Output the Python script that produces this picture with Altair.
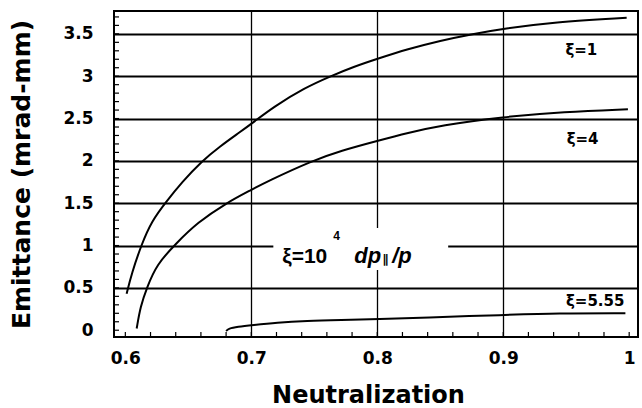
import altair as alt
import numpy as np
import pandas as pd

# Emittance vs. neutralization for three momentum-spread values
xi1_neut = [0.601, 0.605, 0.613, 0.621, 0.632, 0.645, 0.661, 0.675, 0.691, 0.702,
            0.718, 0.742, 0.763, 0.781, 0.801, 0.824, 0.850, 0.876, 0.900, 0.940, 0.998]
xi1_emit = [0.43, 0.67, 1.02, 1.29, 1.51, 1.75, 2.00, 2.17, 2.34, 2.46,
            2.64, 2.86, 3.00, 3.11, 3.21, 3.32, 3.42, 3.50, 3.56, 3.64, 3.69]

xi4_neut = [0.609, 0.612, 0.617, 0.625, 0.640, 0.657, 0.681, 0.699, 0.713, 0.748,
            0.771, 0.801, 0.824, 0.850, 0.900, 0.948, 0.999]
xi4_emit = [0.02, 0.28, 0.50, 0.78, 1.02, 1.27, 1.51, 1.65, 1.76, 2.00,
            2.12, 2.24, 2.33, 2.42, 2.52, 2.58, 2.61]

xi555_neut = [0.680, 0.682, 0.689, 0.701, 0.720, 0.744, 0.771, 0.801, 0.837, 0.900, 0.943, 0.997]
xi555_emit = [-0.01, 0.02, 0.04, 0.06, 0.09, 0.11, 0.12, 0.13, 0.15, 0.18, 0.20, 0.20]

curve_labels = ["ξ=1", "ξ=4", "ξ=5.55"]
label_neut = [0.962, 0.963, 0.973]
label_emit = [3.31, 2.26, 0.35]

x_ticks = [0.6, 0.7, 0.8, 0.9, 1.0]
y_ticks = [0, 0.5, 1, 1.5, 2, 2.5, 3, 3.5]
x_minor = list(np.round(np.arange(0.6, 1.001, 0.02), 3))
y_minor = list(np.round(np.arange(0.0, 3.75, 0.1), 2))

curves = pd.concat([
    pd.DataFrame({"neut": xi1_neut, "emit": xi1_emit, "series": "xi1"}),
    pd.DataFrame({"neut": xi4_neut, "emit": xi4_emit, "series": "xi4"}),
    pd.DataFrame({"neut": xi555_neut, "emit": xi555_emit, "series": "xi555"}),
])
labels = pd.DataFrame({"text": curve_labels, "neut": label_neut, "emit": label_emit})

x_scale = alt.Scale(domain=[0.591, 1.007], nice=False, zero=False)
y_scale = alt.Scale(domain=[-0.08, 3.77], nice=False, zero=False)

x_axis = alt.Axis(
    title="Neutralization", values=x_ticks, format="~g", labelPadding=13,
    gridOpacity={"condition": {"test": "datum.value < 0.65 || datum.value > 0.95", "value": 0}, "value": 1},
    gridWidth=1.3, titleX=254, titleY=65, titleBaseline="alphabetic", titleAlign="center",
    titleFontSize=24,
)
y_axis = alt.Axis(
    title="Emittance (mrad-mm)", values=y_ticks, format="~g", labelPadding=21,
    gridOpacity={"condition": {"test": "datum.value < 0.25", "value": 0}, "value": 1},
    gridWidth=1.8, titleX=-85, titleY=163, titleBaseline="alphabetic", titleAlign="center",
    titleAngle=-90, titleFontSize=25,
)

# every layer shares the same position encodings so the axes merge cleanly
X = alt.X("neut:Q", scale=x_scale, axis=x_axis)
Y = alt.Y("emit:Q", scale=y_scale, axis=y_axis)

lines = alt.Chart(curves).mark_line(color="black", strokeWidth=2, interpolate="basis").encode(
    x=X, y=Y, detail="series:N",
)

x_minor_ticks = alt.Chart(pd.DataFrame({"neut": x_minor})).mark_rule(color="black", strokeWidth=1.2).encode(
    x=X, y=alt.value(326), y2=alt.value(321),
)
y_minor_ticks = alt.Chart(pd.DataFrame({"emit": y_minor})).mark_rule(color="black", strokeWidth=1.2).encode(
    y=Y, x=alt.value(0), x2=alt.value(5),
)

curve_text = alt.Chart(labels).mark_text(
    font="DejaVu Sans", fontWeight="bold", fontSize=15, color="black", align="center", baseline="middle",
).encode(x=X, y=Y, text="text:N")

# white backing box for the definition of xi
box = alt.Chart(pd.DataFrame({"neut": [0.7175], "neut2": [0.8563], "emit": [0.712], "emit2": [1.208]})).mark_rect(
    color="white"
).encode(x=X, x2="neut2:Q", y=Y, y2="emit2:Q")


def note(text, neut, emit, size, style="normal", font="Liberation Sans"):
    return alt.Chart(pd.DataFrame({"text": [text], "neut": [neut], "emit": [emit]})).mark_text(
        font=font, fontWeight="bold", fontStyle=style, fontSize=size, color="black",
        align="left", baseline="alphabetic",
    ).encode(x=X, y=Y, text="text:N")


definition = (
    note("ξ=10", 0.7246, 0.795, 21)
    + note("4", 0.7651, 1.066, 12)
    + note("dp", 0.7817, 0.795, 22, "italic")
    + note("∥", 0.8040, 0.795, 12, "italic", "DejaVu Sans")
    + note("/p", 0.8119, 0.795, 22, "italic")
)

chart = alt.layer(box, x_minor_ticks, y_minor_ticks, lines, curve_text, definition).properties(
    width=524, height=326,
    autosize=alt.AutoSizeParams(type="none"),
    padding={"left": 114, "top": 11, "right": 4, "bottom": 71},
    background="white",
).configure_view(
    stroke="black", strokeWidth=2,
).configure_axis(
    labelFont="DejaVu Sans", labelFontWeight="bold", labelFontSize=17, labelColor="black",
    titleFont="DejaVu Sans", titleFontWeight="bold", titleFontSize=22, titleColor="black",
    ticks=False, domain=False, gridColor="black",
)

chart.save("out.html", embed_options={"renderer": "svg", "actions": False})
